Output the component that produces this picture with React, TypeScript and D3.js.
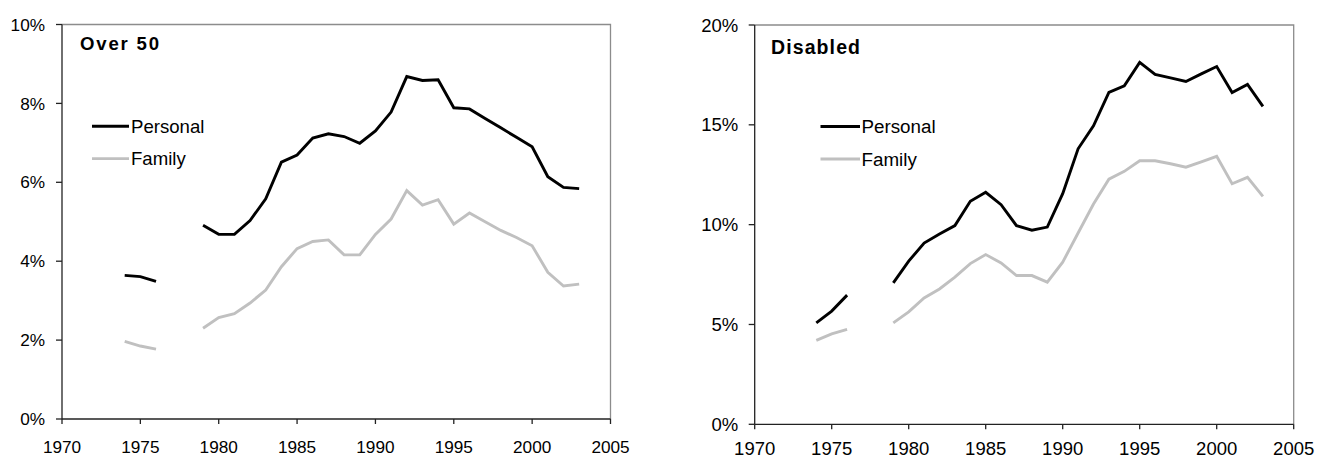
import React from "react";
import * as d3 from "d3";

const years = [1974,1975,1976,1977,1978,1979,1980,1981,1982,1983,1984,1985,1986,1987,1988,1989,1990,1991,1992,1993,1994,1995,1996,1997,1998,1999,2000,2001,2002,2003];

// null = no data (gap in the line)
const over50Personal = [3.64,3.61,3.49,null,null,4.91,4.68,4.68,5.03,5.58,6.51,6.69,7.12,7.23,7.16,6.99,7.30,7.78,8.68,8.58,8.60,7.89,7.86,7.62,7.38,7.14,6.90,6.14,5.87,5.84];
const over50Family = [1.97,1.85,1.77,null,null,2.30,2.57,2.67,2.94,3.27,3.86,4.32,4.50,4.54,4.16,4.16,4.68,5.07,5.79,5.42,5.56,4.94,5.22,5.00,4.78,4.60,4.39,3.72,3.37,3.42];
const disabledPersonal = [5.08,5.67,6.47,null,null,7.08,8.17,9.08,9.53,9.95,11.17,11.62,11.0,9.95,9.72,9.88,11.55,13.8,14.95,16.62,16.95,18.13,17.53,17.35,17.17,17.55,17.92,16.62,17.02,15.92];
const disabledFamily = [4.2,4.53,4.75,null,null,5.08,5.63,6.33,6.78,7.37,8.05,8.5,8.08,7.45,7.45,7.12,8.12,9.58,11.03,12.28,12.67,13.2,13.2,13.05,12.88,13.15,13.42,12.05,12.37,11.42];

const xTicks = [1970,1975,1980,1985,1990,1995,2000,2005];
const over50YTicks = [0,2,4,6,8,10];
const disabledYTicks = [0,5,10,15,20];
const seriesNames = ["Personal","Family"];
const seriesColors = ["#000000","#c0c0c0"];

const FONT = "Arial, 'Liberation Sans', sans-serif";

type PanelProps = {
  x0: number; x1: number; yTop: number; yBot: number;
  yMax: number; yTicks: number[];
  personal: (number|null)[]; family: (number|null)[];
  title: string; titleX: number; titleY: number; titleSize: number; titleWidth: number;
  tickSize: number; yLabelRight: number; xLabelBaseline: number;
  legX0: number; legX1: number; legY: number[]; legTextX: number; legSize: number;
};

function Panel(p: PanelProps) {
  const x = d3.scaleLinear().domain([1970, 2005]).range([p.x0, p.x1]);
  const y = d3.scaleLinear().domain([0, p.yMax]).range([p.yBot, p.yTop]);
  const line = d3.line<number|null>()
    .defined((d) => d !== null)
    .x((_, i) => x(years[i]))
    .y((d) => y(d as number));
  const series = [p.personal, p.family];
  return (
    <g>
      {/* top & right border */}
      <path d={`M${p.x0},${p.yTop}H${p.x1}V${p.yBot}`} fill="none" stroke="#8c8c8c" strokeWidth={1.3} />
      {/* axes */}
      <line x1={p.x0} x2={p.x1} y1={p.yBot} y2={p.yBot} stroke="#222" strokeWidth={1.3} />
      <line x1={p.x0} x2={p.x0} y1={p.yTop} y2={p.yBot} stroke="#222" strokeWidth={1.3} />
      {xTicks.map((t) => (
        <g key={"x" + t}>
          <line x1={x(t)} x2={x(t)} y1={p.yBot} y2={p.yBot + 5} stroke="#222" strokeWidth={1.3} />
          <text x={x(t)} y={p.xLabelBaseline} textAnchor="middle" fontSize={p.tickSize} fontFamily={FONT} fill="#000">{t}</text>
        </g>
      ))}
      {p.yTicks.map((t) => (
        <g key={"y" + t}>
          <line x1={p.x0 - 6} x2={p.x0} y1={y(t)} y2={y(t)} stroke="#222" strokeWidth={1.3} />
          <text x={p.yLabelRight} y={y(t) + p.tickSize * 0.36} textAnchor="end" fontSize={p.tickSize} fontFamily={FONT} fill="#000">{t + "%"}</text>
        </g>
      ))}
      {series.map((s, i) => (
        <path key={"s" + i} d={line(s) || ""} fill="none" stroke={seriesColors[i]} strokeWidth={2.9} strokeLinejoin="miter" />
      ))}
      <text x={p.titleX} y={p.titleY} fontSize={p.titleSize} fontWeight="bold" fontFamily={FONT} textLength={p.titleWidth} lengthAdjust="spacing">{p.title}</text>
      {seriesNames.map((n, i) => (
        <g key={"l" + n}>
          <line x1={p.legX0} x2={p.legX1} y1={p.legY[i]} y2={p.legY[i]} stroke={seriesColors[i]} strokeWidth={2.9} />
          <text x={p.legTextX} y={p.legY[i] + 6.5} fontSize={p.legSize} fontFamily={FONT}>{n}</text>
        </g>
      ))}
    </g>
  );
}

export default function App() {
  return (
    <svg width={1317} height={459} style={{ position: "absolute", left: 0, top: 0, background: "#fff" }}>
      <rect x={0} y={0} width={1317} height={459} fill="#fff" />
      <Panel
        x0={62} x1={610.5} yTop={24.5} yBot={419} yMax={10} yTicks={over50YTicks}
        personal={over50Personal} family={over50Family}
        title="Over 50" titleX={80} titleY={50} titleSize={18.6} titleWidth={79}
        tickSize={17.2} yLabelRight={45} xLabelBaseline={452.7}
        legX0={92} legX1={129} legY={[126.3, 158.6]} legTextX={131} legSize={18.6}
      />
      <Panel
        x0={754.7} x1={1293.7} yTop={25} yBot={424.3} yMax={20} yTicks={disabledYTicks}
        personal={disabledPersonal} family={disabledFamily}
        title="Disabled" titleX={771} titleY={54.3} titleSize={19.5} titleWidth={89}
        tickSize={18.5} yLabelRight={738.3} xLabelBaseline={454.6}
        legX0={820.5} legX1={860} legY={[126.5, 159]} legTextX={861.5} legSize={18.8}
      />
    </svg>
  );
}
